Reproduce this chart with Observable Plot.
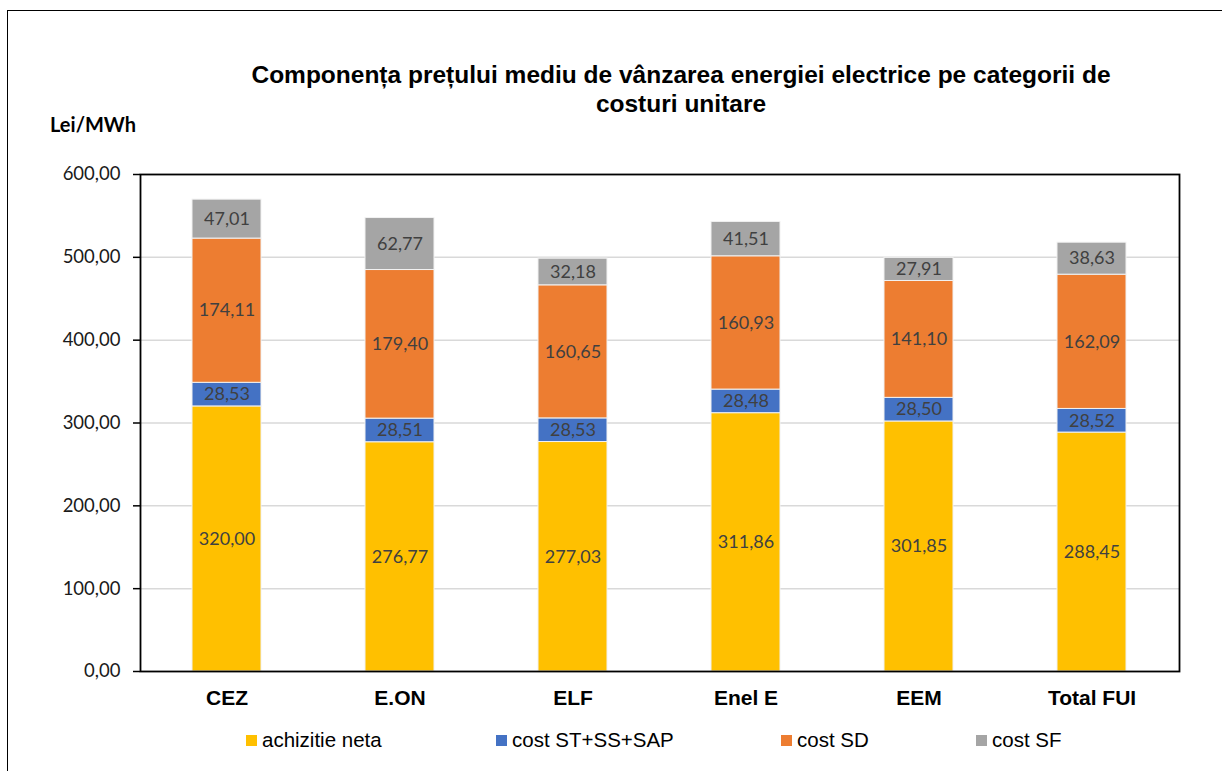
<!DOCTYPE html>
<html>
<head>
<meta charset="utf-8">
<script src="https://cdn.jsdelivr.net/npm/d3@7"></script>
<script src="https://cdn.jsdelivr.net/npm/@observablehq/plot@0.6"></script>
<style>
  html, body { margin: 0; padding: 0; background: #fff; }
  body { width: 1222px; height: 771px; position: relative; overflow: hidden; }
  #frame { position: absolute; left: 7px; top: 10px; width: 1240px; height: 800px; border-left: 1.5px solid #000; border-top: 1.5px solid #000; }
  #title { position: absolute; left: 181px; width: 1000px; top: 60px; text-align: center; font: bold 24.5px "Liberation Sans", Arial, sans-serif; line-height: 29px; color: #000; }
  #unit { position: absolute; left: 50px; top: 112px; font: bold 20px Lato, sans-serif; color: #000; }
  #chart { position: absolute; left: 0; top: 150px; }
  #legend { position: absolute; top: 728px; left: 0; width: 1222px; font: 20.5px "Liberation Sans", Arial, sans-serif; color: #000; }
  .item { position: absolute; display: flex; align-items: center; white-space: nowrap; }
  .sw { width: 11px; height: 11px; margin-right: 5px; }
</style>
</head>
<body>
<div id="frame"></div>
<div id="title">Componența prețului mediu de vânzarea energiei electrice pe categorii de<br>costuri unitare</div>
<div id="unit">Lei/MWh</div>
<div id="chart"></div>
<div id="legend"></div>
<script>
const categories = ["CEZ", "E.ON", "ELF", "Enel E", "EEM", "Total FUI"];
const seriesNames = ["achizitie neta", "cost ST+SS+SAP", "cost SD", "cost SF"];
const seriesColors = ["#FFC000", "#4472C4", "#ED7D31", "#A5A5A5"];
const achizitieNeta = [320.00, 276.77, 277.03, 311.86, 301.85, 288.45];
const costST = [28.53, 28.51, 28.53, 28.48, 28.50, 28.52];
const costSD = [174.11, 179.40, 160.65, 160.93, 141.10, 162.09];
const costSF = [47.01, 62.77, 32.18, 41.51, 27.91, 38.63];
const yTicks = [0, 100, 200, 300, 400, 500, 600];
const legendX = [246, 496, 781, 976];

const seriesValues = [achizitieNeta, costST, costSD, costSF];
const data = [];
seriesNames.forEach((s, si) => {
  categories.forEach((c, ci) => data.push({category: c, series: s, value: seriesValues[si][ci]}));
});
const fmt = v => v.toFixed(2).replace(".", ",");

const plot = Plot.plot({
  width: 1222,
  height: 560,
  marginLeft: 140,
  marginRight: 43,
  marginTop: 24,
  marginBottom: 39,
  style: {background: "transparent", overflow: "visible"},
  x: {domain: categories, paddingInner: 0.6, paddingOuter: 0.3, label: null},
  y: {domain: [0, 600], label: null},
  color: {domain: seriesNames, range: seriesColors},
  marks: [
    Plot.ruleY(yTicks.filter(d => d > 0 && d < 600), {stroke: "#d9d9d9", strokeWidth: 1.5}),
    Plot.barY(data, {x: "category", y: "value", fill: "series", z: "series", stroke: "#f2f2f2", strokeWidth: 1}),
    Plot.text(data, Plot.stackY({x: "category", y: "value", z: "series", text: d => fmt(d.value), fill: "#404040", fontSize: 18, fontFamily: "Lato, sans-serif"})),
    Plot.axisY({ticks: yTicks, tickFormat: fmt, tickSize: 7, tickPadding: 13, stroke: "#000", strokeWidth: 1.5, fill: "#1a1a1a", fontSize: 18.5, fontFamily: "Lato, sans-serif", label: null}),
    Plot.axisX({tickSize: 0, tickPadding: 19, fontSize: 21, fontWeight: "bold", fontFamily: "Liberation Sans, Arial, sans-serif", fill: "#000", label: null}),
    Plot.frame({stroke: "#000", strokeWidth: 1.8})
  ]
});
document.getElementById("chart").appendChild(plot);

const legend = document.getElementById("legend");
seriesNames.forEach((s, i) => {
  const item = document.createElement("div");
  item.className = "item";
  item.style.left = legendX[i] + "px";
  const sw = document.createElement("span");
  sw.className = "sw";
  sw.style.background = seriesColors[i];
  const t = document.createElement("span");
  t.textContent = s;
  item.appendChild(sw);
  item.appendChild(t);
  legend.appendChild(item);
});
</script>
</body>
</html>
